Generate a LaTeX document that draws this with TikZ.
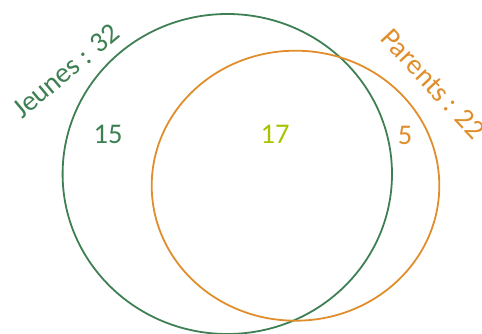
\documentclass[tikz,border=0pt]{standalone}
\usepackage{fontspec}
\setmainfont{Carlito}
\definecolor{vgreen}{RGB}{62,128,84}
\definecolor{vorange}{RGB}{224,142,44}
\definecolor{vlime}{RGB}{168,196,0}
\begin{document}
\begin{tikzpicture}[x=1pt,y=-1pt,
  setline/.style={line width=1.8pt},
  lbl/.style={font=\fontsize{28.5}{32}\selectfont, inner sep=0pt}]
\useasboundingbox (0,0) rectangle (482,334);
\clip (0,0) rectangle (482,334);
\draw[setline, vgreen] (227.3,174) ellipse [x radius=164.7, y radius=160];
\draw[setline, vorange] (295.5,185.7) ellipse [x radius=143.8, y radius=135];
\node[lbl, text=vgreen, rotate=40] (jeunes) at (66,71) {Jeunes : 32};
\node[lbl, text=vorange, rotate=-47] (parents) at (433,84) {Parents : 22};
\node[lbl, text=vgreen] (n15) at (108,134) {15};
\node[lbl, text=vlime] (n17) at (275,134) {17};
\node[lbl, text=vorange] (n5) at (405,135) {5};
\end{tikzpicture}
\end{document}
